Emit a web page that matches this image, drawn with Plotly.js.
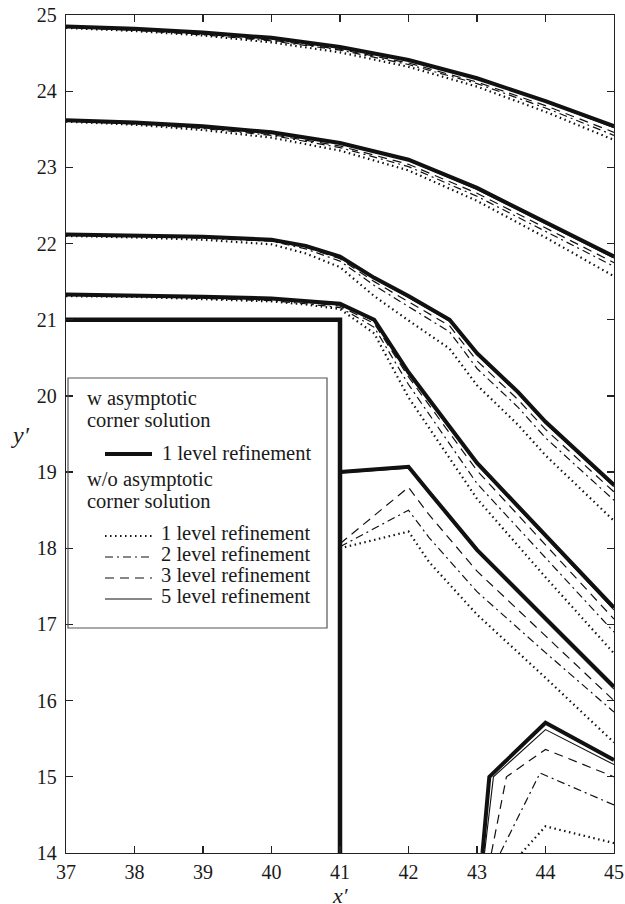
<!DOCTYPE html>
<html>
<head>
<meta charset="utf-8">
<script src="https://cdn.plot.ly/plotly-3.0.1.min.js"></script>
<style>
  html, body { margin: 0; padding: 0; background: #fff; }
  #plot { width: 625px; height: 904px; }
</style>
</head>
<body>
<div id="plot"></div>
<script>
// Tick values
const xTickVals = [37, 38, 39, 40, 41, 42, 43, 44, 45];
const yTickVals = [14, 15, 16, 17, 18, 19, 20, 21, 22, 23, 24, 25];

// Legend labels
const groupWith = ['w asymptotic', 'corner solution'];
const groupWithout = ['w/o asymptotic', 'corner solution'];
const seriesNames = {
  asym1: '1 level refinement',
  ref1: '1 level refinement',
  ref2: '2 level refinement',
  ref3: '3 level refinement',
  ref5: '5 level refinement'
};

// Contour level A (top)
const levelA_x     = [37, 38, 39, 40, 41, 42, 43, 44, 45];
const levelA_asym1 = [24.85, 24.82, 24.77, 24.70, 24.58, 24.41, 24.17, 23.87, 23.54];
const levelA_ref5  = [24.85, 24.81, 24.76, 24.69, 24.57, 24.40, 24.16, 23.86, 23.52];
const levelA_ref3  = [24.84, 24.80, 24.75, 24.67, 24.55, 24.37, 24.12, 23.81, 23.46];
const levelA_ref2  = [24.84, 24.80, 24.74, 24.66, 24.54, 24.35, 24.10, 23.78, 23.42];
const levelA_ref1  = [24.83, 24.79, 24.73, 24.64, 24.51, 24.32, 24.06, 23.73, 23.36];

// Contour level B
const levelB_x     = [37, 38, 39, 40, 41, 42, 43, 44, 45];
const levelB_asym1 = [23.62, 23.59, 23.54, 23.46, 23.32, 23.10, 22.73, 22.28, 21.83];
const levelB_ref5  = [23.62, 23.58, 23.53, 23.45, 23.31, 23.09, 22.71, 22.26, 21.81];
const levelB_ref3  = [23.61, 23.57, 23.52, 23.43, 23.28, 23.04, 22.66, 22.20, 21.75];
const levelB_ref2  = [23.61, 23.57, 23.51, 23.42, 23.26, 23.01, 22.62, 22.16, 21.70];
const levelB_ref1  = [23.60, 23.56, 23.49, 23.39, 23.22, 22.96, 22.56, 22.08, 21.57];

// Contour level C
const levelC_x     = [37, 38, 39, 40, 40.5, 41, 41.5, 42, 42.6, 43, 43.6, 44, 45];
const levelC_asym1 = [22.12, 22.11, 22.09, 22.05, 21.97, 21.83, 21.55, 21.31, 21.00, 20.56, 20.05, 19.66, 18.83];
const levelC_ref5  = [22.12, 22.10, 22.08, 22.04, 21.96, 21.82, 21.54, 21.29, 20.98, 20.54, 20.03, 19.64, 18.81];
const levelC_ref3  = [22.11, 22.10, 22.08, 22.04, 21.95, 21.80, 21.50, 21.24, 20.92, 20.46, 19.95, 19.56, 18.74];
const levelC_ref2  = [22.11, 22.10, 22.07, 22.03, 21.93, 21.77, 21.45, 21.17, 20.84, 20.36, 19.85, 19.45, 18.63];
const levelC_ref1  = [22.10, 22.08, 22.05, 21.99, 21.87, 21.69, 21.31, 20.99, 20.62, 20.14, 19.62, 19.22, 18.36];

// Contour level D
const levelD_x     = [37, 38, 39, 40, 40.5, 41, 41.5, 42, 43, 44, 45];
const levelD_asym1 = [21.33, 21.32, 21.30, 21.28, 21.25, 21.21, 21.00, 20.31, 19.12, 18.17, 17.22];
const levelD_ref5  = [21.33, 21.31, 21.29, 21.27, 21.24, 21.20, 20.98, 20.29, 19.10, 18.14, 17.19];
const levelD_ref3  = [21.32, 21.31, 21.29, 21.26, 21.23, 21.18, 20.95, 20.25, 19.02, 18.05, 17.07];
const levelD_ref2  = [21.32, 21.31, 21.28, 21.25, 21.21, 21.16, 20.90, 20.15, 18.85, 17.87, 16.90];
const levelD_ref1  = [21.31, 21.30, 21.27, 21.24, 21.20, 21.14, 20.82, 19.98, 18.65, 17.62, 16.62];

// Contour level E (springs from the corner at x' = 41)
const levelE_x     = [41, 42, 42.3, 43, 44, 45];
const levelE_asym1 = [19.00, 19.07, 18.74, 17.98, 17.08, 16.18];
const levelE_ref5  = [18.99, 19.05, 18.72, 17.96, 17.05, 16.15];
const levelE_ref3  = [18.06, 18.80, 18.44, 17.70, 16.85, 16.00];
const levelE_ref2  = [18.02, 18.50, 18.14, 17.43, 16.63, 15.85];
const levelE_ref1  = [18.00, 18.22, 17.82, 17.13, 16.30, 15.45];

// Contour level F (lower right)
const levelF_asym1_x = [43.08, 43.18, 44.00, 45];
const levelF_asym1   = [14.00, 15.00, 15.71, 15.22];
const levelF_ref5_x  = [43.11, 43.24, 44.00, 45];
const levelF_ref5    = [14.00, 15.00, 15.62, 15.16];
const levelF_ref3_x  = [43.21, 43.43, 44.00, 45];
const levelF_ref3    = [14.00, 15.00, 15.36, 15.00];
const levelF_ref2_x  = [43.34, 43.92, 45];
const levelF_ref2    = [14.00, 15.05, 14.63];
const levelF_ref1_x  = [43.65, 44.00, 45];
const levelF_ref1    = [14.00, 14.35, 14.13];

// Step boundary
const wallX = [37, 41, 41];
const wallY = [21, 21, 14];

// ---------------------------------------------------------------
const levels = {
  asym1: [[levelA_x, levelA_asym1], [levelB_x, levelB_asym1], [levelC_x, levelC_asym1], [levelD_x, levelD_asym1], [levelE_x, levelE_asym1], [levelF_asym1_x, levelF_asym1]],
  ref5:  [[levelA_x, levelA_ref5],  [levelB_x, levelB_ref5],  [levelC_x, levelC_ref5],  [levelD_x, levelD_ref5],  [levelE_x, levelE_ref5],  [levelF_ref5_x, levelF_ref5]],
  ref3:  [[levelA_x, levelA_ref3],  [levelB_x, levelB_ref3],  [levelC_x, levelC_ref3],  [levelD_x, levelD_ref3],  [levelE_x, levelE_ref3],  [levelF_ref3_x, levelF_ref3]],
  ref2:  [[levelA_x, levelA_ref2],  [levelB_x, levelB_ref2],  [levelC_x, levelC_ref2],  [levelD_x, levelD_ref2],  [levelE_x, levelE_ref2],  [levelF_ref2_x, levelF_ref2]],
  ref1:  [[levelA_x, levelA_ref1],  [levelB_x, levelB_ref1],  [levelC_x, levelC_ref1],  [levelD_x, levelD_ref1],  [levelE_x, levelE_ref1],  [levelF_ref1_x, levelF_ref1]]
};

const INK = '#111';
const styles = {
  asym1: { color: INK, width: 4, dash: 'solid' },
  ref5:  { color: INK, width: 1.1, dash: 'solid' },
  ref3:  { color: INK, width: 1.2, dash: '9px,6px' },
  ref2:  { color: INK, width: 1.2, dash: '8px,4px,2px,4px' },
  ref1:  { color: INK, width: 2.2, dash: '1.5px,3.5px' }
};

// Join all contour levels of one solution into a single trace, broken by gaps
function joinLevels(list) {
  const xs = [], ys = [];
  list.forEach(([lx, ly], i) => {
    if (i > 0) { xs.push(null); ys.push(null); }
    xs.push(...lx); ys.push(...ly);
  });
  return { xs, ys };
}

const order = ['ref1', 'ref2', 'ref3', 'ref5', 'asym1'];
const traces = order.map(key => {
  const j = joinLevels(levels[key]);
  return {
    type: 'scatter', mode: 'lines', x: j.xs, y: j.ys,
    name: seriesNames[key], showlegend: false,
    line: styles[key], hoverinfo: 'skip'
  };
});
traces.push({
  type: 'scatter', mode: 'lines', x: wallX, y: wallY, showlegend: false,
  line: { color: INK, width: 4.5 }, hoverinfo: 'skip'
});

// Page geometry
const W = 625, H = 904;
const M = { l: 66, r: 11, t: 15, b: 51 };
const px2x = px => (px - M.l) / (W - M.l - M.r);
const px2y = py => (H - M.b - py) / (H - M.t - M.b);

const SERIF = 'Liberation Serif';
const TEXT = '#1a1a1a';
const legendFont = { family: SERIF, size: 20.5, color: TEXT };

const annotations = [];
const shapes = [];

// Legend frame
shapes.push({
  type: 'rect', xref: 'paper', yref: 'paper',
  x0: px2x(68), x1: px2x(327), y0: px2y(628), y1: px2y(378),
  line: { color: '#555', width: 1.2 }, fillcolor: 'rgba(0,0,0,0)'
});

function legendText(text, pxLeft, pyMid) {
  annotations.push({
    xref: 'paper', yref: 'paper', x: px2x(pxLeft), y: px2y(pyMid),
    xanchor: 'left', yanchor: 'middle', showarrow: false,
    text: text, font: legendFont, borderpad: 0
  });
}
function legendSample(key, pyMid) {
  shapes.push({
    type: 'line', xref: 'paper', yref: 'paper',
    x0: px2x(105), x1: px2x(152), y0: px2y(pyMid), y1: px2y(pyMid),
    line: styles[key]
  });
}

legendText(groupWith[0], 86, 399);
legendText(groupWith[1], 86, 420);
legendSample('asym1', 454);
legendText(seriesNames.asym1, 161, 453);
legendText(groupWithout[0], 86, 480);
legendText(groupWithout[1], 86, 501);
const rows = [['ref1', 536], ['ref2', 557], ['ref3', 578], ['ref5', 599]];
rows.forEach(([k, py]) => {
  legendSample(k, py);
  legendText(seriesNames[k], 160, py - 3);
});

// Axis labels, both set horizontally
annotations.push({
  xref: 'paper', yref: 'paper', x: px2x(20), y: px2y(435),
  xanchor: 'center', yanchor: 'middle', showarrow: false,
  text: '<i>y′</i>', font: { family: SERIF, size: 24, color: TEXT }
});
annotations.push({
  xref: 'paper', yref: 'paper', x: px2x(340), y: px2y(882),
  xanchor: 'center', yanchor: 'top', showarrow: false, borderpad: 0,
  text: '<i>x′</i>', font: { family: SERIF, size: 22, color: TEXT }
});

const axisCommon = {
  showgrid: false, zeroline: false,
  showline: true, linecolor: '#222', linewidth: 1.3,
  mirror: 'ticks', ticks: 'inside', ticklen: 7, tickwidth: 1.2, tickcolor: '#222',
  tickfont: { family: SERIF, size: 20, color: TEXT },
  fixedrange: true
};

const layout = {
  width: W, height: H,
  margin: M,
  font: { family: SERIF, color: TEXT },
  paper_bgcolor: '#fff', plot_bgcolor: '#fff',
  showlegend: false,
  xaxis: Object.assign({}, axisCommon, {
    range: [37, 45], tickvals: xTickVals, ticktext: xTickVals.map(String),
    ticklabelstandoff: 1
  }),
  yaxis: Object.assign({}, axisCommon, {
    range: [14, 25], tickvals: yTickVals, ticktext: yTickVals.map(String),
    ticklabelstandoff: 4
  }),
  annotations: annotations,
  shapes: shapes
};

Plotly.newPlot('plot', traces, layout, { staticPlot: true, displayModeBar: false });
</script>
</body>
</html>
